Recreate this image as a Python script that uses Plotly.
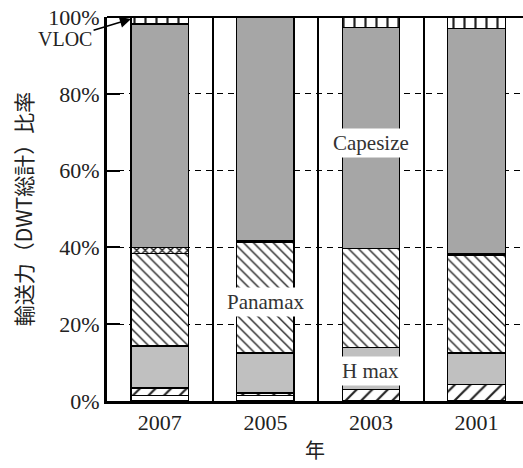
import plotly.graph_objects as go

# Fleet share by ship size class (% of total DWT), stacked bottom -> top
years = ["2007", "2005", "2003", "2001"]
small = [1.5, 1.4, 0.0, 0.0]
handysize = [1.9, 0.7, 2.9, 4.3]
handymax = [10.9, 10.4, 11.1, 8.2]
panamax = [24.2, 28.9, 25.7, 25.5]
post_panamax = [1.5, 0.5, 0.0, 0.3]
capesize = [58.2, 58.1, 57.6, 58.8]
vloc = [1.8, 0.0, 2.7, 2.9]

y_ticks = [0, 20, 40, 60, 80, 100]
y_tick_text = ["0%", "20%", "40%", "60%", "80%", "100%"]

SERIF = "Liberation Serif"
CJK = "Noto Sans CJK JP"

# (name, values, fill colour, pattern shape, pattern size, pattern solidity)
segments = [
    ("Small", small, "white", "", 8, 0.2),
    ("Handysize", handysize, "white", "/", 11, 0.2),
    ("Handymax", handymax, "#c0c0c0", "", 8, 0.2),
    ("Panamax", panamax, "white", "\\", 7, 0.2),
    ("Post-Panamax", post_panamax, "white", "x", 6, 0.4),
    ("Capesize", capesize, "#a6a6a6", "", 8, 0.2),
    ("VLOC", vloc, "white", "|", 11, 0.2),
]

fig = go.Figure()
for name, vals, color, shape, psize, solid in segments:
    marker = dict(color=color, line=dict(color="black", width=1.2))
    if shape:
        marker["pattern"] = dict(shape=shape, fgcolor="#222", bgcolor="white",
                                 size=psize, solidity=solid, fillmode="replace")
    fig.add_trace(go.Bar(
        x=years, y=[v if v > 0 else None for v in vals], name=name,
        marker=marker, showlegend=False, hoverinfo="skip",
    ))

fig.update_layout(
    width=523, height=468,
    margin=dict(l=107, r=0, t=17, b=67),
    barmode="stack", bargap=0.456,
    plot_bgcolor="white", paper_bgcolor="white",
    xaxis=dict(
        type="category", range=[-0.5, 3.44],
        tickson="boundaries", ticks="",
        showgrid=True, gridcolor="black", gridwidth=1.5,
        showline=True, linecolor="black", linewidth=3,
        tickfont=dict(family=SERIF, size=22, color="#222"),
        title=dict(text="年", font=dict(family=CJK, size=20, color="#222"), standoff=10),
    ),
    yaxis=dict(
        range=[0, 100], tickmode="array", tickvals=y_ticks, ticktext=y_tick_text,
        ticks="inside", ticklen=13, tickwidth=1.5, tickcolor="black",
        showgrid=True, gridcolor="black", gridwidth=1, griddash="6px,5px",
        zeroline=False,
        showline=True, linecolor="black", linewidth=3,
        tickfont=dict(family=SERIF, size=22, color="#222"),
        title=dict(text="輸送力（DWT総計）比率", font=dict(family=CJK, size=21, color="#222"),
                   standoff=10),
    ),
    yaxis2=dict(
        overlaying="y", side="right", anchor="x", range=[0, 100],
        tickvals=y_ticks[1:-1], ticks="inside", ticklen=12, tickwidth=1.5,
        tickcolor="black", showticklabels=False, showgrid=False,
        showline=False, zeroline=False,
    ),
    shapes=[dict(type="line", xref="paper", yref="paper", x0=0, x1=1, y0=1, y1=1,
                 line=dict(color="black", width=2))],
)

# category positions: 0 = 2007, 1 = 2005, 2 = 2003, 3 = 2001
label_font = dict(family=SERIF, size=21, color="#333")
fig.add_annotation(x=years.index("2003"), y=67.1, text="Capesize", showarrow=False,
                   bgcolor="white", borderpad=2, font=label_font)
fig.add_annotation(x=years.index("2005"), y=25.9, text="Panamax", showarrow=False,
                   bgcolor="white", borderpad=2, font=label_font)
fig.add_annotation(x=years.index("2003"), y=7.7, text="H max", showarrow=False,
                   bgcolor="white", borderpad=2, font=label_font)
fig.add_annotation(x=years.index("2007") - 0.272, y=99.5, text="VLOC", showarrow=True,
                   ax=-66, ay=20, arrowhead=2, arrowsize=1.4, arrowwidth=1.6,
                   arrowcolor="black", font=dict(family=SERIF, size=20, color="#222"))

fig.write_html("out.html")
